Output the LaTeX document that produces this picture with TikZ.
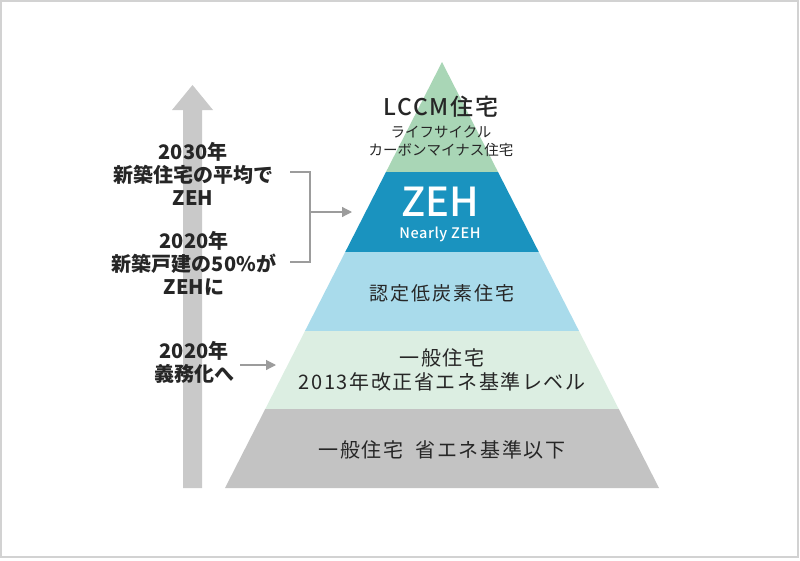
\documentclass[tikz,border=0pt]{standalone}
\usepackage{fontspec}
\setmainfont{Noto Sans CJK JP}
\newfontfamily\mediumfont{Noto Sans CJK JP Medium}
\usetikzlibrary{positioning, arrows.meta}
\definecolor{lccmgreen}{HTML}{A9D6B6}
\definecolor{zehblue}{HTML}{1A93BF}
\definecolor{lowcarbon}{HTML}{A9DBEB}
\definecolor{stdgreen}{HTML}{DCEEE2}
\definecolor{belowgray}{HTML}{C3C3C3}
\definecolor{arrowgray}{HTML}{C9C9C9}
\definecolor{linegray}{HTML}{9C9C9C}
\definecolor{framegray}{HTML}{D2D2D2}
\definecolor{txt}{HTML}{262626}
\tikzstyle{lefttext} = [font=\bfseries\fontsize{20}{23}\selectfont, text=txt, align=center, inner sep=0pt]
\tikzstyle{layertext} = [font={\fontsize{20}{24}\selectfont\addfontfeature{LetterSpace=8}}, text=txt, align=center, inner sep=0pt]
\tikzstyle{bracket} = [draw=linegray, line width=1.2pt]
\tikzstyle{arrow} = [bracket, -{Triangle[length=10pt, width=10pt]}]

\begin{document}
\begin{tikzpicture}[x=1pt, y=-1pt]
    \useasboundingbox (0,0) rectangle (800,560);
    \draw[framegray, line width=2pt] (1,1) rectangle (798,557);

    % Big arrow
    \fill[arrowgray] (183,488) -- (183,110) -- (172,110) -- (192.5,85) -- (213,110) -- (202,110) -- (202,488) -- cycle;

    % Pyramid
    \coordinate (apex) at (442,62);
    \coordinate (baseleft) at (225,488);
    \coordinate (baseright) at (659,488);
    \begin{scope}
        \clip (apex) -- (baseleft) -- (baseright) -- cycle;
        \fill[lccmgreen] (200,50) rectangle (700,172);
        \fill[zehblue] (200,172) rectangle (700,252);
        \fill[lowcarbon] (200,252) rectangle (700,331);
        \fill[stdgreen] (200,331) rectangle (700,409);
        \fill[belowgray] (200,409) rectangle (700,490);
    \end{scope}

    % Nodes
    \node (lccm) [layertext, font={\mediumfont\fontsize{23}{26}\selectfont\addfontfeature{LetterSpace=8}}] at (441,107) {LCCM住宅};
    \node (lccmsub) [layertext, font=\fontsize{14.5}{18}\selectfont, below=8pt of lccm] {ライフサイクル\\カーボンマイナス住宅};
    \node (zeh) [layertext, font={\mediumfont\fontsize{40}{44}\selectfont}, text=white] at (440,202) {ZEH};
    \node (nearly) [layertext, font={\mediumfont\fontsize{14.5}{18}\selectfont\addfontfeature{LetterSpace=4}}, text=white] at (440,234) {Nearly ZEH};
    \node (lowc) [layertext, font={\fontsize{19}{23}\selectfont\addfontfeature{LetterSpace=10}}] at (442,293) {認定低炭素住宅};
    \node (std) [layertext] at (442,370) {一般住宅\\2013年改正省エネ基準レベル};
    \node (below) [layertext] at (442,450) {一般住宅\ \ 省エネ基準以下};

    \node (zeh2030) [lefttext] at (193,174) {2030年\\新築住宅の平均で\\ZEH};
    \node (zeh2020) [lefttext] at (194,263) {2020年\\新築戸建の50\%が\\ZEHに};
    \node (duty) [lefttext] at (194,362) {2020年\\義務化へ};

    % Arrows
    \coordinate (br2030) at (290,172);
    \coordinate (brtop) at (310,172);
    \coordinate (brbot) at (310,262);
    \coordinate (br2020) at (290,262);
    \coordinate (brmid) at (310,212);
    \coordinate (zehin) at (352,212);
    \coordinate (dutyout) at (240,365);
    \coordinate (stdin) at (276,365);
    \draw [bracket] (br2030) -- (brtop) -- (brbot) -- (br2020);
    \draw [arrow] (brmid) -- (zehin);
    \draw [arrow] (dutyout) -- (stdin);
\end{tikzpicture}
\end{document}
